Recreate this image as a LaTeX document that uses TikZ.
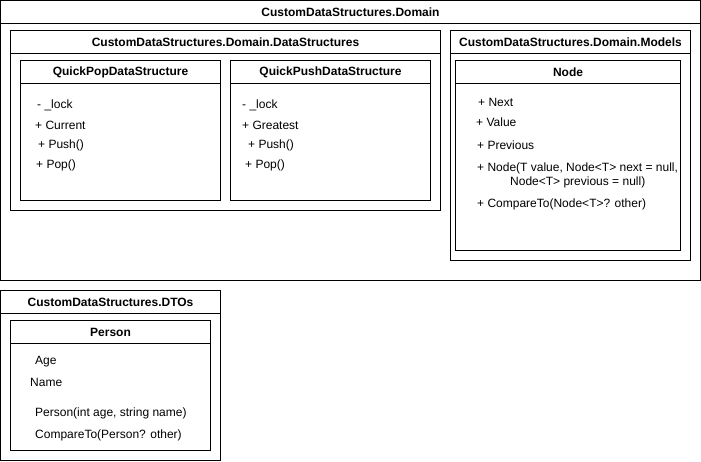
\documentclass[tikz,border=0pt]{standalone}
\usepackage{fontspec}
\setmainfont{Liberation Sans}
\usetikzlibrary{positioning}
\tikzstyle{head}=[draw, line width=1pt, inner sep=0pt, outer sep=0pt, minimum height=23pt, font=\fontsize{12}{14}\selectfont\bfseries]
\tikzstyle{body}=[draw, line width=1pt, inner sep=0pt, outer sep=0pt]
\tikzstyle{item}=[anchor=west, inner sep=0pt]

\begin{document}
\begin{tikzpicture}[x=1pt, y=-1pt, font=\fontsize{12}{14}\selectfont, node distance=0pt]
    \useasboundingbox (0,0) rectangle (701,461);
    % packages
    \node [head, anchor=north west, minimum width=700pt](domH) at (0.5,0.5) {CustomDataStructures.Domain};
    \node [body, below=of domH, minimum width=700pt, minimum height=257pt](dom) {};
    \node [head, anchor=north west, minimum width=430pt](dsH) at (10.5,30.5) {CustomDataStructures.Domain.DataStructures};
    \node [body, below=of dsH, minimum width=430pt, minimum height=157pt](ds) {};
    \node [head, anchor=north west, minimum width=240pt](modH) at (450.5,30.5) {CustomDataStructures.Domain.Models};
    \node [body, below=of modH, minimum width=240pt, minimum height=207pt](mod) {};
    \node [head, anchor=north west, minimum width=220pt](dtoH) at (0.5,290.5) {CustomDataStructures.DTOs};
    \node [body, below=of dtoH, minimum width=220pt, minimum height=147pt](dto) {};

    % classes
    \node [head, anchor=north west, minimum width=200pt](popH) at (20.5,60.5) {QuickPopDataStructure};
    \node [body, below=of popH, minimum width=200pt, minimum height=117pt](pop) {};
    \node [head, right=10pt of popH, minimum width=200pt](pushH) {QuickPushDataStructure};
    \node [body, below=of pushH, minimum width=200pt, minimum height=117pt](push) {};
    \node [head, anchor=north west, minimum width=225pt](nodeH) at (455.5,60.5) {Node};
    \node [body, below=of nodeH, minimum width=225pt, minimum height=167pt](node) {};
    \node [head, anchor=north west, minimum width=200pt](perH) at (10.5,320.5) {Person};
    \node [body, below=of perH, minimum width=200pt, minimum height=107pt](per) {};

    % members
    \node [item](popLock) at (37,105) {- \_lock};
    \node [item](popCur) at (35,125) {+ Current};
    \node [item](popPush) at (38,145) {+ Push()};
    \node [item](popPop) at (36,165) {+ Pop()};

    \node [item](pushLock) at (242,105) {- \_lock};
    \node [item](pushGr) at (242,125) {+ Greatest};
    \node [item](pushPush) at (248,145) {+ Push()};
    \node [item](pushPop) at (245,165) {+ Pop()};

    \node [item](nodeNext) at (478,102) {+ Next};
    \node [item](nodeVal) at (476,122) {+ Value};
    \node [item](nodePrev) at (477,145) {+ Previous};
    \node [item, align=left](nodeCtor) at (477,175) {+ Node(T value, Node<T> next = null,\\\hspace*{33pt}Node<T> previous = null)};
    \node [item](nodeCmp) at (477,204) {+ CompareTo(Node<T>? other)};

    \node [item](perAge) at (35,362) {Age};
    \node [item](perName) at (30,382) {Name};
    \node [item](perCtor) at (35,413) {Person(int age, string name)};
    \node [item](perCmp) at (35,435) {CompareTo(Person? other)};
\end{tikzpicture}
\end{document}
